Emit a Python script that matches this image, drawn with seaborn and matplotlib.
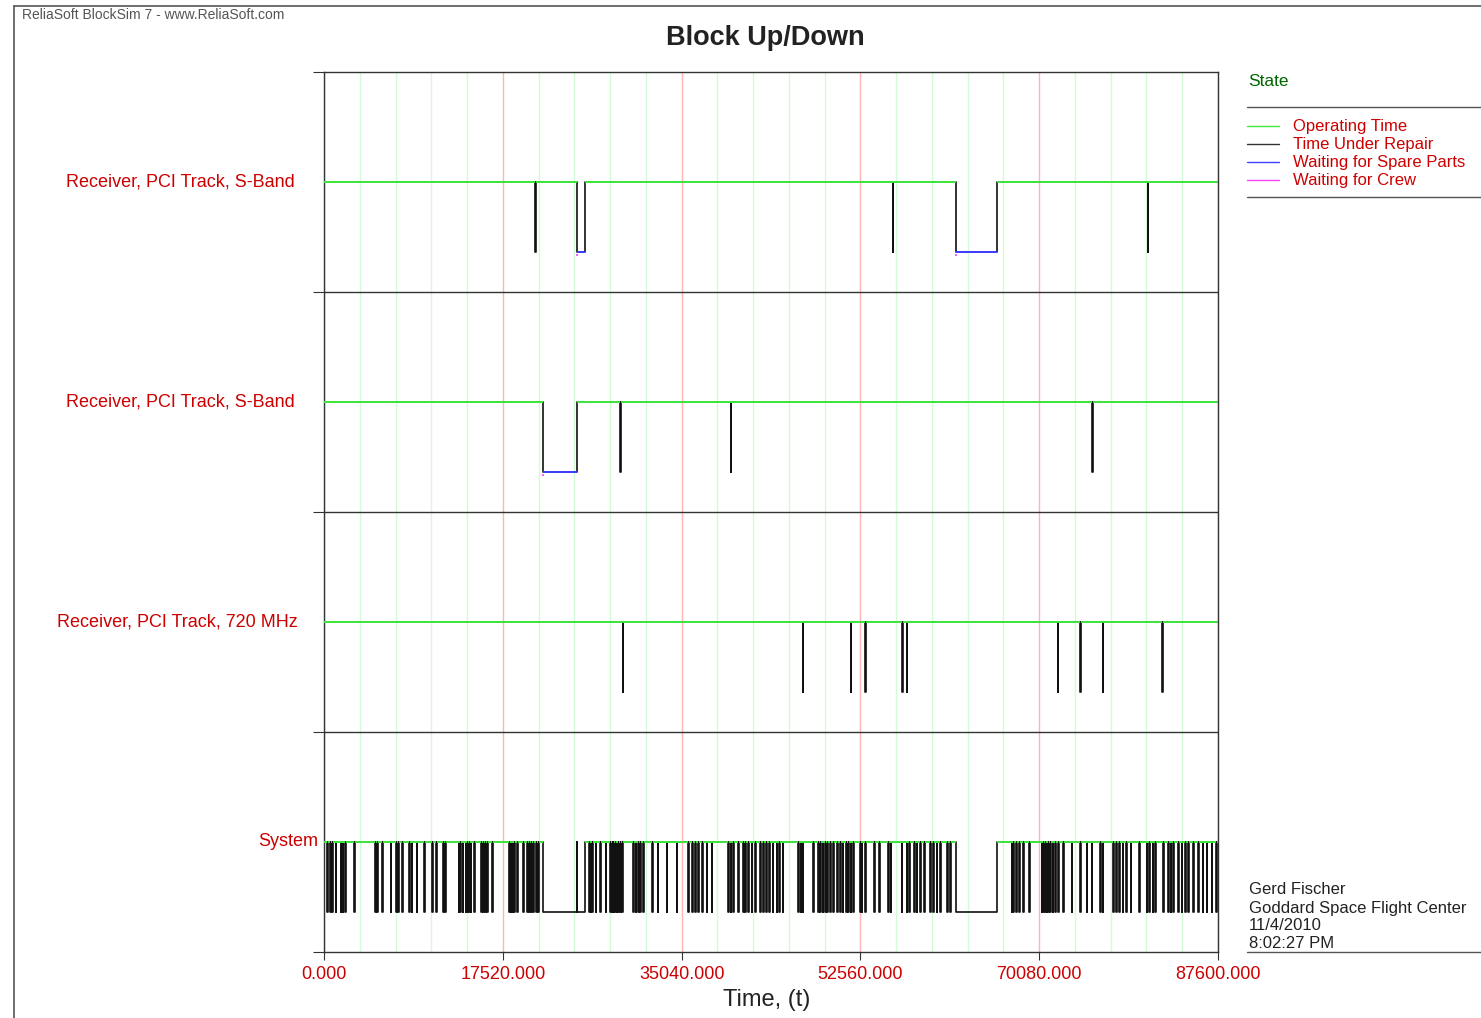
import numpy as np
import pandas as pd
import matplotlib
matplotlib.use("Agg")
import matplotlib.pyplot as plt
import seaborn as sns
from matplotlib.lines import Line2D

HORIZON = 87600.0
REPAIR = 60.0  # hours a quick repair keeps the block down

# rows from top to bottom
rows = ["Receiver, PCI Track, S-Band", "Receiver, PCI Track, S-Band",
        "Receiver, PCI Track, 720 MHz", "System"]

# failure times (hours) that were fixed quickly
spikes_sband_a = [20680, 55730, 80720]
spikes_sband_b = [29010, 39860, 75260]
spikes_720 = [29270, 46910, 51620, 53020, 56640, 57100, 71900, 74090, 76310, 82150]
spikes_system = [
    320, 590, 810, 1150, 1640, 1830, 2060, 2970, 5030, 5220, 5680, 6540, 7060, 7250,
    7670, 8360, 8590, 9080, 9800, 10610, 11010, 11690, 11860, 13200, 13330, 13590,
    13890, 14010, 14210, 14380, 14730, 15390, 15610, 15810, 16000, 16490, 18160,
    18300, 18490, 18620, 18940, 19530, 19920, 20120, 20320, 20510, 20780, 21000,
    25970, 26140, 26290, 26630, 27050, 27610, 28030, 28220, 28350, 28520, 28680,
    28840, 29010, 29230, 30310, 30550, 30800, 30970, 31290, 32170, 32700, 33580,
    34560, 35700, 36090, 36360, 36680, 37070, 37500, 37990, 39620, 39860, 40110,
    40600, 41090, 41260, 41580, 41910, 42240, 42730, 43050, 43300, 43600, 43970,
    44360, 44620, 44950, 46480, 46720, 46910, 47950, 48440, 48610, 48870, 49100,
    49320, 49590, 49910, 50300, 50570, 50830, 51160, 51380, 51620, 51870, 52530,
    52690, 53020, 53900, 54420, 55300, 55540, 56610, 57100, 57360, 57820, 58080,
    58410, 58800, 59390, 59710, 60040, 60370, 61080, 61350, 67390, 67550, 67820,
    68140, 68530, 69120, 70330, 70490, 70660, 70820, 70980, 71150, 71410, 71640,
    71960, 72450, 73270, 74090, 74740, 75230, 76050, 76310, 77350, 77620, 77940,
    78270, 78600, 79060, 79900, 80620, 80880, 81210, 81440, 82250, 82740, 82980,
    83230, 83720, 84050, 84380, 84700, 85190, 85680, 86110, 86500, 87000, 87420,
]

# long outages (start, end) spent waiting for spare parts
waits_sband_a = [(24790, 25580), (61930, 65980)]
waits_sband_b = [(21450, 24760)]
waits_720 = []
# long outages of the whole system
outages_system = [(21450, 24760), (24790, 25580), (61930, 65980)]

spikes = [spikes_sband_a, spikes_sband_b, spikes_720, spikes_system]
blocks = [waits_sband_a, waits_sband_b, waits_720, outages_system]
waiting = [waits_sband_a, waits_sband_b, waits_720, []]

GREEN = "#3fe83f"
BLUE = "#4040ff"
MAGENTA = "#ff40ff"
RED = "#cc0000"
DARK = "#333333"

sns.set_style("white")
plt.rcParams["font.family"] = ["Liberation Sans", "DejaVu Sans"]

fig = plt.figure(figsize=(14.81, 10.18), dpi=100)
ax = fig.add_axes([324 / 1481, 66 / 1018, 894 / 1481, 880 / 1018])

trace_rows, green_segs = [], []
for i, name in enumerate(rows):
    base = len(rows) - 1 - i
    up, low = base + 0.5, base + 0.18
    downs = sorted([(s, s + REPAIR) for s in spikes[i]] + list(blocks[i]))
    t, y = [0.0], [up]
    prev = 0.0
    for s, e in downs:
        t += [s, s, e, e]
        y += [up, low, low, up]
        green_segs.append((up, prev, s))
        prev = e
    t.append(HORIZON)
    y.append(up)
    green_segs.append((up, prev, HORIZON))
    trace_rows.append(pd.DataFrame({"t": t, "y": y, "row": i}))

trace = pd.concat(trace_rows, ignore_index=True)
sns.lineplot(data=trace, x="t", y="y", units="row", estimator=None, sort=False,
             color="#111111", linewidth=1.2, legend=False, ax=ax, zorder=2)

gs = np.array(green_segs)
ax.hlines(gs[:, 0], gs[:, 1], gs[:, 2], color=GREEN, linewidth=1.4, zorder=3)

for i, w in enumerate(waiting):
    if not w:
        continue
    low = len(rows) - 1 - i + 0.18
    w = np.array(w, dtype=float)
    ax.hlines(np.full(len(w), low), w[:, 0], w[:, 1], color=BLUE, linewidth=1.4, zorder=3)
    ax.hlines(np.full(len(w), low - 0.014), w[:, 0] - 60, w[:, 0] + 120,
              color=MAGENTA, linewidth=1.2, zorder=3)

for yb in range(1, len(rows)):
    ax.axhline(yb, color=DARK, linewidth=1.0, zorder=4)

ax.set_xlim(0, HORIZON)
ax.set_ylim(0, len(rows))
major = np.arange(0, HORIZON + 1, 17520)
ax.set_xticks(major)
ax.set_xticklabels([f"{v:.3f}" for v in major])
ax.set_xticks(np.arange(0, HORIZON + 1, 3504), minor=True)
ax.set_yticks(np.arange(0, len(rows) + 1))
ax.set_yticklabels([])
ax.set_axisbelow(True)
ax.grid(False)
ax.grid(which="minor", axis="x", color="#d4fcd4", linewidth=1.0)
ax.grid(which="major", axis="x", color="#ffb4b4", linewidth=1.0)
ax.tick_params(axis="x", which="major", length=6, color=DARK, direction="out",
               labelcolor=RED, labelsize=13, pad=4, bottom=True)
ax.tick_params(axis="x", which="minor", length=0)
ax.tick_params(axis="y", length=8, color=DARK, direction="out", left=True)
for sp in ax.spines.values():
    sp.set_color(DARK)
    sp.set_linewidth(1.0)
ax.set_xlabel("Time, (t)", fontsize=17, color="#222222")
ax.xaxis.set_label_coords((767 - 324) / 894, -(1000 - 952) / 880)
ax.xaxis.label.set_va("center")
ax.set_ylabel("")

# row labels, right aligned left of the axis
label_right = [295, 295, 298, 318]
for i, name in enumerate(rows):
    base = len(rows) - 1 - i
    ax.text((label_right[i] - 324) / 894, base + 0.5, name, transform=ax.get_yaxis_transform(),
            ha="right", va="center", color=RED, fontsize=13)

fig.text(765 / 1481, 1 - 38 / 1018, "Block Up/Down", ha="center", va="center",
         fontsize=19.5, fontweight="bold", color="#222222")
fig.text(22 / 1481, 1 - 15 / 1018, "ReliaSoft BlockSim 7 - www.ReliaSoft.com",
         ha="left", va="center", fontsize=10, color="#555555")

# page frame
fig.add_artist(Line2D([14 / 1481, 14 / 1481], [0, 1 - 6 / 1018], color="#555555", lw=1.2))
fig.add_artist(Line2D([14 / 1481, 1], [1 - 6 / 1018, 1 - 6 / 1018], color="#555555", lw=1.2))

# legend
fig.text(1248 / 1481, 1 - 82 / 1018, "State", ha="left", va="center", fontsize=12.5, color="#006600")
for yy in (107, 197, 952):
    fig.add_artist(Line2D([1247 / 1481, 1], [1 - yy / 1018] * 2, color="#555555", lw=1.0))
legend_items = ["Operating Time", "Time Under Repair", "Waiting for Spare Parts", "Waiting for Crew"]
legend_colors = [GREEN, DARK, BLUE, MAGENTA]
for k, (lab, col) in enumerate(zip(legend_items, legend_colors)):
    yy = 1 - (126 + 18 * k) / 1018
    fig.add_artist(Line2D([1247 / 1481, 1279 / 1481], [yy, yy], color=col, lw=1.0))
    fig.text(1293 / 1481, yy, lab, ha="left", va="center", fontsize=12, color=RED)

info = ["Gerd Fischer", "Goddard Space Flight Center", "11/4/2010", "8:02:27 PM"]
for k, line in enumerate(info):
    fig.text(1249 / 1481, 1 - (890 + 18 * k) / 1018, line, ha="left", va="center",
             fontsize=12, color="#222222")

fig.savefig("out.png", dpi=100)
